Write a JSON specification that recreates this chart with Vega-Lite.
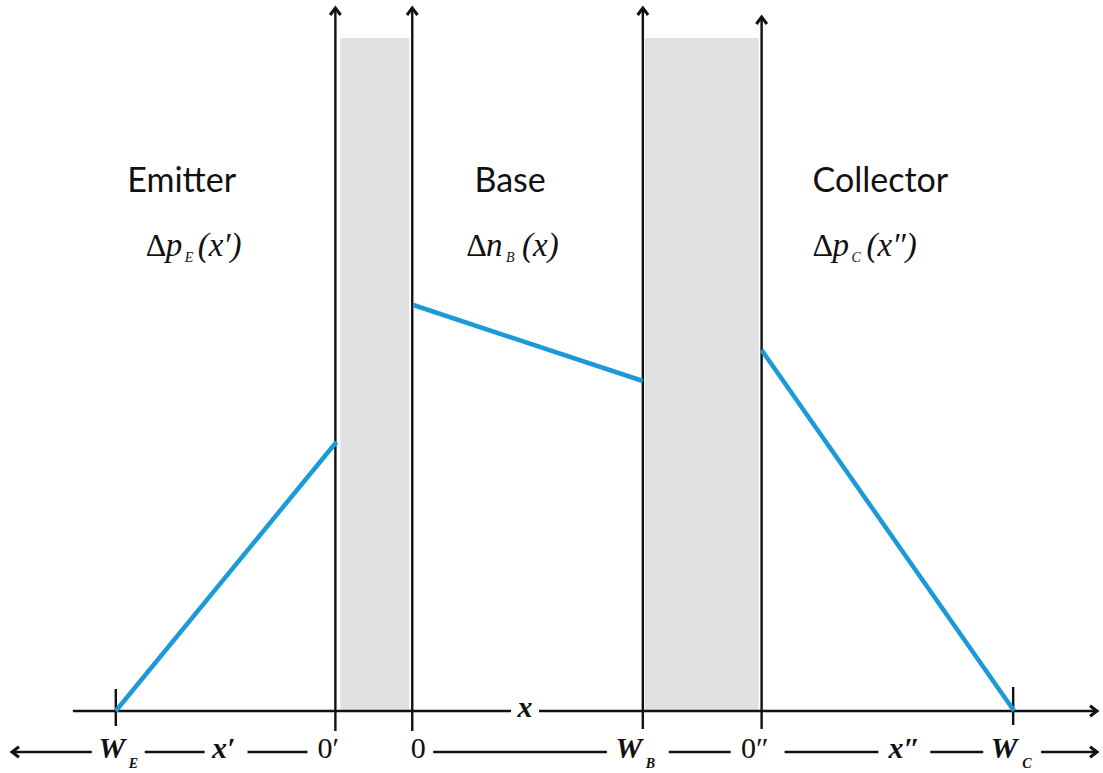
{
  "$schema": "https://vega.github.io/schema/vega-lite/v6.json",
  "width": 1103,
  "height": 773,
  "autosize": {"type": "fit", "contains": "padding"},
  "padding": 0,
  "background": "white",
  "config": {"view": {"stroke": null}},
  "datasets": {
    "regions": [
      {"x": 341, "x2": 410, "y": 0, "y2": 673},
      {"x": 646, "x2": 760, "y": 0, "y2": 673}
    ],
    "verticals": [
      {"x": 336, "y": -20, "y2": 703},
      {"x": 413, "y": -20, "y2": 703},
      {"x": 644, "y": -18, "y2": 703},
      {"x": 763, "y": -18, "y2": 694},
      {"x": 116, "y": -15, "y2": 22},
      {"x": 1015, "y": -14, "y2": 24}
    ],
    "hsegs": [
      {"x": 73, "x2": 512, "y": 0},
      {"x": 540, "x2": 1097, "y": 0},
      {"x": 14, "x2": 92, "y": -41},
      {"x": 145, "x2": 205, "y": -41},
      {"x": 248, "x2": 308, "y": -41},
      {"x": 434, "x2": 608, "y": -41},
      {"x": 670, "x2": 732, "y": -41},
      {"x": 786, "x2": 880, "y": -41},
      {"x": 932, "x2": 985, "y": -41},
      {"x": 1043, "x2": 1097, "y": -41}
    ],
    "headsUp": [
      {"x": 336, "y": 703},
      {"x": 413, "y": 703},
      {"x": 644, "y": 703},
      {"x": 763, "y": 694}
    ],
    "headsRight": [
      {"x": 1099, "y": 0},
      {"x": 1099, "y": -41}
    ],
    "headsLeft": [
      {"x": 12, "y": -41}
    ],
    "profiles": [
      {"region": "emitter", "x": 116, "y": 0},
      {"region": "emitter", "x": 337, "y": 269},
      {"region": "base", "x": 414, "y": 406},
      {"region": "base", "x": 644, "y": 330},
      {"region": "collector", "x": 763, "y": 361},
      {"region": "collector", "x": 1016, "y": 0}
    ],
    "names": [
      {"x": 182, "y": 529, "t": "Emitter"},
      {"x": 511, "y": 529, "t": "Base"},
      {"x": 882, "y": 529, "t": "Collector"}
    ],
    "mathDelta": [
      {"x": 146, "y": 455, "t": "Δ"},
      {"x": 467, "y": 455, "t": "Δ"},
      {"x": 814, "y": 455, "t": "Δ"}
    ],
    "mathMain": [
      {"x": 166, "y": 455, "t": "p"},
      {"x": 198, "y": 455, "t": "(x′)"},
      {"x": 487, "y": 455, "t": "n"},
      {"x": 523, "y": 455, "t": "(x)"},
      {"x": 834, "y": 455, "t": "p"},
      {"x": 868, "y": 455, "t": "(x″)"}
    ],
    "mathSub": [
      {"x": 185, "y": 449, "t": "E"},
      {"x": 507, "y": 449, "t": "B"},
      {"x": 853, "y": 449, "t": "C"}
    ],
    "axisItalic": [
      {"x": 112, "y": -47, "t": "W"},
      {"x": 224, "y": -47, "t": "x′"},
      {"x": 630, "y": -47, "t": "W"},
      {"x": 906, "y": -47, "t": "x″"},
      {"x": 1006, "y": -47, "t": "W"},
      {"x": 526, "y": -6, "t": "x"}
    ],
    "axisPlain": [
      {"x": 329, "y": -47, "t": "0′"},
      {"x": 419, "y": -47, "t": "0"},
      {"x": 756, "y": -47, "t": "0″"}
    ],
    "axisSub": [
      {"x": 129, "y": -57, "t": "E"},
      {"x": 647, "y": -57, "t": "B"},
      {"x": 1024, "y": -57, "t": "C"}
    ]
  },
  "layer": [
    {
      "data": {"name": "regions"},
      "mark": {"type": "rect", "color": "#e1e1e1"},
      "encoding": {
        "x": {"field": "x", "type": "quantitative", "scale": {"domain": [0, 1103], "nice": false, "zero": false}, "axis": null},
        "x2": {"field": "x2"},
        "y": {"field": "y", "type": "quantitative", "scale": {"domain": [-62, 711], "nice": false, "zero": false}, "axis": null},
        "y2": {"field": "y2"}
      }
    },
    {
      "data": {"name": "verticals"},
      "mark": {"type": "rule", "color": "#111111", "strokeWidth": 2.4},
      "encoding": {
        "x": {"field": "x", "type": "quantitative"},
        "y": {"field": "y", "type": "quantitative"},
        "y2": {"field": "y2"}
      }
    },
    {
      "data": {"name": "hsegs"},
      "mark": {"type": "rule", "color": "#111111", "strokeWidth": 2.4},
      "encoding": {
        "x": {"field": "x", "type": "quantitative"},
        "x2": {"field": "x2"},
        "y": {"field": "y", "type": "quantitative"}
      }
    },
    {
      "data": {"name": "headsUp"},
      "mark": {"type": "point", "shape": "M-0.75,1L0,0L0.75,1", "size": 196, "filled": false, "stroke": "#111111", "strokeWidth": 3, "opacity": 1},
      "encoding": {
        "x": {"field": "x", "type": "quantitative"},
        "y": {"field": "y", "type": "quantitative"}
      }
    },
    {
      "data": {"name": "headsRight"},
      "mark": {"type": "point", "shape": "M-1,-0.75L0,0L-1,0.75", "size": 196, "filled": false, "stroke": "#111111", "strokeWidth": 3, "opacity": 1},
      "encoding": {
        "x": {"field": "x", "type": "quantitative"},
        "y": {"field": "y", "type": "quantitative"}
      }
    },
    {
      "data": {"name": "headsLeft"},
      "mark": {"type": "point", "shape": "M1,-0.75L0,0L1,0.75", "size": 196, "filled": false, "stroke": "#111111", "strokeWidth": 3, "opacity": 1},
      "encoding": {
        "x": {"field": "x", "type": "quantitative"},
        "y": {"field": "y", "type": "quantitative"}
      }
    },
    {
      "data": {"name": "profiles"},
      "mark": {"type": "line", "color": "#1b9ad7", "strokeWidth": 4.5},
      "encoding": {
        "x": {"field": "x", "type": "quantitative"},
        "y": {"field": "y", "type": "quantitative"},
        "detail": {"field": "region"}
      }
    },
    {
      "data": {"name": "names"},
      "mark": {"type": "text", "font": "Lato", "fontSize": 34, "align": "center", "baseline": "middle", "color": "#111111"},
      "encoding": {
        "x": {"field": "x", "type": "quantitative"},
        "y": {"field": "y", "type": "quantitative"},
        "text": {"field": "t"}
      }
    },
    {
      "data": {"name": "mathDelta"},
      "mark": {"type": "text", "font": "Liberation Serif", "fontSize": 32, "align": "left", "baseline": "alphabetic", "color": "#111111"},
      "encoding": {
        "x": {"field": "x", "type": "quantitative"},
        "y": {"field": "y", "type": "quantitative"},
        "text": {"field": "t"}
      }
    },
    {
      "data": {"name": "mathMain"},
      "mark": {"type": "text", "font": "Liberation Serif", "fontStyle": "italic", "fontSize": 33, "align": "left", "baseline": "alphabetic", "color": "#111111"},
      "encoding": {
        "x": {"field": "x", "type": "quantitative"},
        "y": {"field": "y", "type": "quantitative"},
        "text": {"field": "t"}
      }
    },
    {
      "data": {"name": "mathSub"},
      "mark": {"type": "text", "font": "Liberation Serif", "fontStyle": "italic", "fontSize": 14, "align": "left", "baseline": "alphabetic", "color": "#111111"},
      "encoding": {
        "x": {"field": "x", "type": "quantitative"},
        "y": {"field": "y", "type": "quantitative"},
        "text": {"field": "t"}
      }
    },
    {
      "data": {"name": "axisItalic"},
      "mark": {"type": "text", "font": "Liberation Serif", "fontStyle": "italic", "fontWeight": "bold", "fontSize": 30, "align": "center", "baseline": "alphabetic", "color": "#111111"},
      "encoding": {
        "x": {"field": "x", "type": "quantitative"},
        "y": {"field": "y", "type": "quantitative"},
        "text": {"field": "t"}
      }
    },
    {
      "data": {"name": "axisPlain"},
      "mark": {"type": "text", "font": "Liberation Serif", "fontSize": 30, "align": "center", "baseline": "alphabetic", "color": "#111111"},
      "encoding": {
        "x": {"field": "x", "type": "quantitative"},
        "y": {"field": "y", "type": "quantitative"},
        "text": {"field": "t"}
      }
    },
    {
      "data": {"name": "axisSub"},
      "mark": {"type": "text", "font": "Liberation Serif", "fontStyle": "italic", "fontWeight": "bold", "fontSize": 14, "align": "left", "baseline": "alphabetic", "color": "#111111"},
      "encoding": {
        "x": {"field": "x", "type": "quantitative"},
        "y": {"field": "y", "type": "quantitative"},
        "text": {"field": "t"}
      }
    }
  ]
}
